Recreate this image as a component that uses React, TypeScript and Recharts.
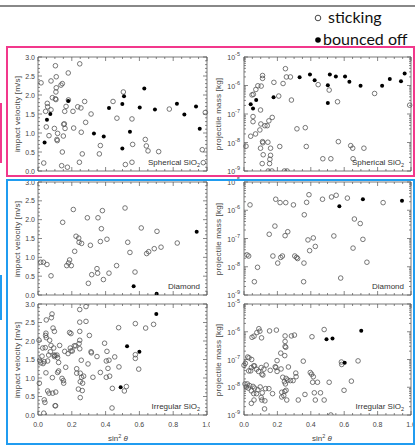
import React from 'react'
import { ScatterChart, Scatter, XAxis, YAxis, ReferenceArea } from 'recharts'

// [sin^2 theta, impact velocity in m/s]
const sphVelStick: [number, number][] = [
  [0.103, 2.77], [0.247, 2.82], [0.018, 2.32], [0.108, 2.48], [0.179, 2.58], [0.077, 2.37], [0.144, 2.30],
  [0.136, 2.26], [0.108, 2.19], [0.106, 2.08], [0.103, 1.90], [0.106, 1.88], [0.085, 1.93], [0.055, 1.78],
  [0.057, 1.69], [0.077, 1.61], [0.045, 1.57], [0.180, 1.87], [0.166, 1.70], [0.158, 1.57], [0.207, 1.57],
  [0.235, 1.69], [0.254, 1.66], [0.276, 1.83], [0.314, 1.50], [0.282, 1.28], [0.256, 1.02], [0.211, 1.13],
  [0.049, 1.16], [0.097, 1.12], [0.152, 1.23], [0.156, 1.24], [0.160, 1.12], [0.116, 0.99], [0.065, 0.93],
  [0.112, 0.83], [0.114, 0.80], [0.150, 0.92], [0.144, 0.50], [0.034, 0.21], [0.140, 0.14], [0.174, 0.10],
  [0.245, 0.23], [0.262, 0.45], [0.369, 0.67], [0.363, 0.45], [0.444, 1.83], [0.467, 1.39], [0.505, 2.08],
  [0.517, 0.17], [0.556, 1.37], [0.560, 0.70], [0.556, 0.23], [0.635, 0.83], [0.641, 0.66], [0.651, 0.53],
  [0.714, 0.51], [0.777, 1.63], [0.990, 1.54], [0.972, 0.56], [0.978, 0.22],
]
const sphVelBounce: [number, number][] = [
  [0.179, 1.84], [0.073, 1.50], [0.053, 1.35], [0.039, 0.75], [0.331, 0.99], [0.389, 0.91], [0.420, 1.66],
  [0.499, 1.76], [0.509, 1.97], [0.499, 0.59], [0.544, 1.03], [0.602, 1.67], [0.629, 2.17], [0.692, 1.62],
  [0.822, 1.77], [0.866, 1.49], [0.935, 1.70], [0.957, 1.11],
]

// [sin^2 theta, log10 of projectile mass in kg]
const sphMassStick: [number, number][] = [
  [0.248, -5.41], [0.254, -5.70], [0.278, -5.70], [0.179, -5.89], [0.234, -5.93], [0.208, -6.37], [0.284, -6.51],
  [0.444, -5.97], [0.510, -6.16], [0.560, -6.57], [0.782, -6.28], [0.992, -6.69], [0.111, -5.65], [0.111, -5.75],
  [0.103, -6.02], [0.083, -6.01], [0.071, -6.14], [0.056, -6.31], [0.048, -6.33], [0.099, -6.86], [0.054, -7.09],
  [0.054, -7.27], [0.101, -7.35], [0.125, -7.41], [0.139, -7.41], [0.169, -7.12], [0.149, -7.24], [0.069, -7.70],
  [0.095, -7.56], [0.040, -7.78], [0.111, -7.97], [0.113, -8.01], [0.143, -7.99], [0.012, -8.13], [0.099, -8.20],
  [0.159, -8.20], [0.214, -8.14], [0.115, -8.43], [0.159, -8.45], [0.155, -8.59], [0.109, -8.74], [0.153, -8.74],
  [0.317, -7.52], [0.367, -7.48], [0.373, -8.14], [0.565, -7.97], [0.639, -8.11], [0.651, -8.20], [0.718, -8.20],
  [0.472, -8.57], [0.520, -8.57], [0.653, -8.57], [0.145, -9.0], [0.167, -9.0], [0.242, -9.0], [0.258, -9.0],
]
const sphMassBounce: [number, number][] = [
  [0.040, -6.66], [0.054, -6.81], [0.073, -6.51], [0.177, -6.41], [0.333, -5.71], [0.395, -5.61], [0.423, -5.82],
  [0.502, -5.99], [0.502, -6.61], [0.514, -5.61], [0.550, -5.68], [0.605, -5.68], [0.631, -5.87], [0.698, -6.01],
  [0.827, -6.01], [0.873, -5.77], [0.940, -5.85], [0.962, -5.58],
]

const diaVelStick: [number, number][] = [
  [0.016, 0.87], [0.032, 0.87], [0.053, 0.81], [0.077, 0.51], [0.146, 1.93], [0.170, 0.78], [0.181, 0.85],
  [0.187, 0.93], [0.197, 0.78], [0.209, 2.27], [0.217, 1.16], [0.225, 1.56], [0.241, 1.51], [0.243, 1.40],
  [0.258, 1.37], [0.292, 2.05], [0.298, 0.31], [0.310, 1.32], [0.318, 0.54], [0.349, 0.70], [0.353, 0.58],
  [0.355, 2.05], [0.369, 1.42], [0.375, 1.76], [0.381, 2.24], [0.387, 0.41], [0.408, 1.48], [0.420, 0.58],
  [0.465, 0.78], [0.515, 2.31], [0.531, 1.40], [0.544, 1.13], [0.574, 0.61], [0.611, 1.78], [0.643, 1.10],
  [0.655, 1.15], [0.688, 1.23], [0.704, 1.69], [0.728, 1.27], [0.824, 1.38],
]
const diaVelBounce: [number, number][] = [[0.566, 0.23], [0.702, 0.03], [0.939, 1.68]]

const diaMassStick: [number, number][] = [
  [0.018, -7.58], [0.028, -7.62], [0.036, -5.81], [0.062, -8.53], [0.081, -8.02], [0.151, -6.85], [0.173, -7.62],
  [0.185, -6.56], [0.190, -5.61], [0.202, -7.87], [0.216, -5.73], [0.220, -7.67], [0.230, -7.62], [0.246, -6.90],
  [0.250, -5.73], [0.262, -6.76], [0.296, -5.81], [0.304, -7.62], [0.315, -7.67], [0.321, -7.71], [0.357, -8.53],
  [0.359, -7.87], [0.361, -6.16], [0.375, -5.72], [0.383, -7.05], [0.389, -5.45], [0.393, -7.43], [0.415, -6.98],
  [0.427, -7.28], [0.470, -5.61], [0.524, -5.53], [0.538, -6.91], [0.552, -5.47], [0.579, -8.40], [0.619, -5.57],
  [0.653, -7.34], [0.661, -6.31], [0.696, -6.47], [0.712, -7.03], [0.736, -7.84], [0.833, -5.73],
]
const diaMassBounce: [number, number][] = [[0.571, -5.86], [0.712, -5.61], [0.946, -5.66]]

const irrVelStick: [number, number][] = [
  [0.006, 2.02], [0.008, 0.86], [0.010, 1.48], [0.016, 1.41], [0.024, 1.59], [0.028, 1.81], [0.037, 1.44],
  [0.030, 1.39], [0.043, 1.82], [0.049, 2.09], [0.045, 2.15], [0.047, 2.21], [0.049, 2.57], [0.047, 1.14],
  [0.037, 0.41], [0.041, 0.34], [0.034, 0.05], [0.057, 0.65], [0.065, 0.59], [0.069, 2.02], [0.063, 1.62],
  [0.057, 1.46], [0.073, 1.71], [0.077, 1.88], [0.083, 2.73], [0.079, 2.63], [0.087, 0.59], [0.085, 1.01],
  [0.089, 2.35], [0.093, 1.81], [0.095, 1.62], [0.097, 2.26], [0.097, 1.58], [0.101, 1.61], [0.101, 0.25],
  [0.104, 0.25], [0.105, 0.62], [0.112, 1.62], [0.116, 1.15], [0.122, 1.42], [0.116, 1.55], [0.122, 1.19],
  [0.128, 1.88], [0.142, 0.99], [0.150, 0.93], [0.152, 0.86], [0.158, 1.72], [0.164, 1.29], [0.178, 1.66],
  [0.187, 2.23], [0.191, 1.81], [0.195, 1.73], [0.203, 1.73], [0.195, 2.20], [0.215, 1.87], [0.223, 1.87],
  [0.229, 1.25], [0.229, 1.13], [0.239, 0.70], [0.243, 1.93], [0.247, 2.85], [0.247, 2.51], [0.247, 2.26],
  [0.247, 2.02], [0.247, 1.79], [0.250, 1.13], [0.250, 0.90], [0.250, 0.47], [0.256, 1.48], [0.258, 1.02],
  [0.264, 0.86], [0.270, 1.05], [0.262, 0.66], [0.284, 2.93], [0.284, 2.53], [0.296, 1.38], [0.304, 2.15],
  [0.314, 1.71], [0.316, 1.68], [0.325, 1.02], [0.349, 1.58], [0.369, 1.15], [0.394, 1.94], [0.404, 1.46],
  [0.404, 1.02], [0.408, 1.72], [0.414, 1.26], [0.420, 1.48], [0.424, 1.05], [0.440, 0.72], [0.438, 0.19],
  [0.454, 1.57], [0.477, 2.36], [0.479, 1.30], [0.511, 0.65], [0.523, 0.77], [0.576, 2.47], [0.576, 1.63],
  [0.576, 1.53], [0.596, 1.24], [0.637, 2.35], [0.684, 2.45],
]
const irrVelBounce: [number, number][] = [[0.489, 0.75], [0.527, 1.86], [0.600, 1.71], [0.700, 2.73]]

const irrMassStick: [number, number][] = [
  [0.480, -5.92], [0.407, -6.18], [0.194, -5.94], [0.153, -5.97], [0.089, -5.89], [0.095, -5.98], [0.077, -6.03],
  [0.105, -6.22], [0.060, -6.16], [0.048, -6.20], [0.246, -6.15], [0.246, -6.35], [0.246, -6.53], [0.250, -6.56],
  [0.284, -6.15], [0.302, -6.12], [0.220, -6.77], [0.244, -6.86], [0.198, -7.04], [0.000, -7.21], [0.008, -7.14],
  [0.022, -6.91], [0.030, -6.94], [0.046, -7.00], [0.058, -7.23], [0.044, -7.29], [0.028, -7.41], [0.040, -7.41],
  [0.063, -7.23], [0.075, -7.35], [0.087, -7.43], [0.103, -7.29], [0.119, -7.35], [0.113, -7.56], [0.107, -7.53],
  [0.133, -7.20], [0.157, -7.39], [0.187, -7.26], [0.191, -7.29], [0.198, -7.43], [0.222, -7.34], [0.232, -7.64],
  [0.252, -7.68], [0.262, -7.74], [0.278, -7.76], [0.266, -7.27], [0.294, -7.76], [0.310, -7.49], [0.312, -7.62],
  [0.355, -7.06], [0.397, -7.47], [0.405, -7.53], [0.415, -7.62], [0.411, -7.82], [0.440, -7.82], [0.510, -7.82],
  [0.583, -7.09], [0.585, -7.18], [0.683, -7.05], [0.643, -7.78], [0.599, -8.11], [0.520, -9.0], [0.006, -7.88],
  [0.014, -7.99], [0.026, -8.03], [0.020, -7.88], [0.034, -7.94], [0.054, -7.97], [0.063, -8.03], [0.044, -8.13],
  [0.058, -8.23], [0.075, -8.23], [0.083, -8.09], [0.097, -7.99], [0.109, -8.20], [0.129, -8.05], [0.149, -8.05],
  [0.171, -8.23], [0.044, -8.58], [0.060, -8.46], [0.103, -8.37], [0.107, -8.46], [0.125, -8.49], [0.123, -8.78],
  [0.226, -8.35], [0.238, -8.30], [0.244, -8.15], [0.252, -8.11], [0.256, -8.46], [0.325, -8.46], [0.365, -8.26],
  [0.421, -8.20], [0.427, -8.46], [0.458, -8.20], [0.480, -8.46], [0.242, -7.80], [0.248, -7.88], [0.226, -8.18],
]
const irrMassBounce: [number, number][] = [[0.494, -6.27], [0.530, -6.24], [0.702, -5.96], [0.603, -7.12]]

const sinTicks = [0, 0.2, 0.4, 0.6, 0.8, 1.0]
const sinTickLabels = ['0.0', '0.2', '0.4', '0.6', '0.8', '1.0']
const velTicks = [0, 0.5, 1, 1.5, 2, 2.5, 3]
const velTickLabels = ['0.0', '0.5', '1.0', '1.5', '2.0', '2.5', '3.0']
const massDecades = [-9, -8, -7, -6, -5]

// IDL style minor ticks
const sinMinor = Array.from({ length: 21 }, (_, i) => +(i * 0.05).toFixed(2))
const velMinor = Array.from({ length: 31 }, (_, i) => +(i * 0.1).toFixed(1))
const massMinor = massDecades
  .slice(0, -1)
  .flatMap(d => [1, 2, 3, 4, 5, 6, 7, 8, 9].map(m => m * 10 ** d))
  .concat(10 ** -5)

const PINK = '#f2388c'
const BLUE = '#209cf0'
const TICK = '#555'
const SANS = '"Liberation Sans", Arial, sans-serif'
const LABEL = { fontFamily: SANS, fontSize: 7, fill: '#444' }

const COLS = [
  { plotLeft: 38, plotW: 169 },
  { plotLeft: 244, plotW: 167 },
]
const ROWS = [
  { plotTop: 57, plotH: 114 },
  { plotTop: 182, plotH: 113 },
  { plotTop: 304, plotH: 111 },
]
const YW = 34
const XH = 16
const TOP = 10

const near = (a: number, b: number) => Math.abs(a - b) < 1e-6

const bottomTick = (plotH: number, withLabel: boolean) => (p: any) => {
  const v = p.payload.value
  const idx = sinTicks.findIndex(t => near(t, v))
  const l = idx >= 0 ? 4 : 2
  return (
    <g>
      <line x1={p.x} y1={p.y} x2={p.x} y2={p.y - l} stroke={TICK} strokeWidth={0.7} />
      <line x1={p.x} y1={p.y - plotH} x2={p.x} y2={p.y - plotH + l} stroke={TICK} strokeWidth={0.7} />
      {withLabel && idx >= 0 && (
        <text x={p.x} y={p.y + 12} textAnchor="middle" {...LABEL}>{sinTickLabels[idx]}</text>
      )}
    </g>
  )
}

const velTick = (plotW: number) => (p: any) => {
  const v = p.payload.value
  const idx = velTicks.findIndex(t => near(t, v))
  const l = idx >= 0 ? 4 : 2
  return (
    <g>
      <line x1={p.x} y1={p.y} x2={p.x + l} y2={p.y} stroke={TICK} strokeWidth={0.7} />
      <line x1={p.x + plotW} y1={p.y} x2={p.x + plotW - l} y2={p.y} stroke={TICK} strokeWidth={0.7} />
      {idx >= 0 && (
        <text x={p.x - 3} y={p.y + 2.5} textAnchor="end" {...LABEL}>{velTickLabels[idx]}</text>
      )}
    </g>
  )
}

const massTick = (plotW: number) => (p: any) => {
  const e = Math.log10(p.payload.value)
  const major = Math.abs(e - Math.round(e)) < 1e-6
  const l = major ? 4 : 2
  return (
    <g>
      <line x1={p.x} y1={p.y} x2={p.x + l} y2={p.y} stroke={TICK} strokeWidth={0.7} />
      <line x1={p.x + plotW} y1={p.y} x2={p.x + plotW - l} y2={p.y} stroke={TICK} strokeWidth={0.7} />
      {major && (
        <text x={p.x - 4} y={p.y + 3} textAnchor="end" {...LABEL}>
          10<tspan dy={-4} fontSize={5.5}>{Math.round(e)}</tspan>
        </text>
      )}
    </g>
  )
}

const openDot = (p: any) => (
  <circle cx={p.cx} cy={p.cy} r={2.3} fill="none" stroke="#555" strokeWidth={0.8} />
)
const fullDot = (p: any) => <circle cx={p.cx} cy={p.cy} r={2} fill="#000" />

interface PanelProps {
  row: number
  col: number
  stick: [number, number][]
  bounce: [number, number][]
  name: string
  sub?: string
}

function Panel({ row, col, stick, bounce, name, sub }: PanelProps) {
  const { plotLeft, plotW } = COLS[col]
  const { plotTop, plotH } = ROWS[row]
  const isMass = col === 1
  const toPt = ([x, y]: [number, number]) => ({ x, y: isMass ? 10 ** y : y })
  const yDomain: [number, number] = isMass ? [1e-9, 1e-5] : [0, 3]
  return (
    <>
      <div style={{ position: 'absolute', left: plotLeft - YW, top: plotTop - TOP }}>
        <ScatterChart
          width={YW + plotW + 4}
          height={TOP + plotH + XH}
          margin={{ top: TOP, right: 4, bottom: 0, left: 0 }}
        >
          <XAxis
            dataKey="x"
            type="number"
            domain={[0, 1]}
            ticks={sinMinor}
            interval={0}
            height={XH}
            tickSize={0}
            tickMargin={0}
            axisLine={false}
            tickLine={false}
            tick={bottomTick(plotH, row === 2)}
          />
          <YAxis
            dataKey="y"
            type="number"
            scale={isMass ? 'log' : 'linear'}
            domain={yDomain}
            allowDataOverflow
            ticks={isMass ? massMinor : velMinor}
            interval={0}
            width={YW}
            tickSize={0}
            tickMargin={0}
            axisLine={false}
            tickLine={false}
            tick={isMass ? massTick(plotW) : velTick(plotW)}
          />
          <ReferenceArea
            x1={0}
            x2={1}
            y1={yDomain[0]}
            y2={yDomain[1]}
            fill="none"
            fillOpacity={0}
            stroke="#555"
            strokeWidth={0.8}
          />
          <Scatter data={stick.map(toPt)} shape={openDot} isAnimationActive={false} />
          <Scatter data={bounce.map(toPt)} shape={fullDot} isAnimationActive={false} />
        </ScatterChart>
      </div>
      <div
        style={{
          position: 'absolute',
          left: plotLeft,
          width: plotW - 7,
          top: plotTop + plotH - 13,
          textAlign: 'right',
          fontFamily: SANS,
          fontSize: 8,
          lineHeight: '10px',
          color: '#333',
          whiteSpace: 'nowrap',
        }}
      >
        {name}
        {sub && <span style={{ fontSize: 5.5, verticalAlign: '-2px' }}>{sub}</span>}
      </div>
    </>
  )
}

function AxisTitle({ x, y, text }: { x: number; y: number; text: string }) {
  return (
    <div
      style={{
        position: 'absolute',
        left: x,
        top: y,
        transform: 'translate(-50%, -50%) rotate(-90deg)',
        fontFamily: SANS,
        fontSize: 8,
        letterSpacing: 0.2,
        color: '#444',
        whiteSpace: 'nowrap',
      }}
    >
      {text}
    </div>
  )
}

export default function App() {
  return (
    <div
      style={{
        position: 'absolute',
        left: 0,
        top: 0,
        width: 415,
        height: 446,
        background: '#fff',
        overflow: 'hidden',
      }}
    >
      <div style={{ position: 'absolute', left: 0, top: 5, width: 415, height: 2, background: '#888' }} />

      <Panel row={0} col={0} stick={sphVelStick} bounce={sphVelBounce} name="Spherical SiO" sub="2" />
      <Panel row={1} col={0} stick={diaVelStick} bounce={diaVelBounce} name="Diamond" />
      <Panel row={2} col={0} stick={irrVelStick} bounce={irrVelBounce} name="Irregular SiO" sub="2" />
      {/* the right-hand image hides the end of the left "1.0" label */}
      <div style={{ position: 'absolute', left: 210, top: 419, width: 8, height: 12, background: '#fff' }} />
      <Panel row={0} col={1} stick={sphMassStick} bounce={sphMassBounce} name="Spherical SiO" sub="2" />
      <Panel row={1} col={1} stick={diaMassStick} bounce={diaMassBounce} name="Diamond" />
      <Panel row={2} col={1} stick={irrMassStick} bounce={irrMassBounce} name="Irregular SiO" sub="2" />

      {ROWS.map(r => (
        <React.Fragment key={r.plotTop}>
          <AxisTitle x={17} y={r.plotTop + r.plotH / 2} text="impact velocity [m/s]" />
          <AxisTitle x={218} y={r.plotTop + r.plotH / 2} text="projectile mass [kg]" />
        </React.Fragment>
      ))}

      {[118, 322].map(cx => (
        <div
          key={cx}
          style={{
            position: 'absolute',
            left: cx - 30,
            width: 60,
            top: 431,
            textAlign: 'center',
            fontFamily: SANS,
            fontSize: 8,
            lineHeight: '10px',
            color: '#444',
            whiteSpace: 'nowrap',
          }}
        >
          sin<span style={{ fontSize: 5.5, verticalAlign: '3px' }}>2</span> <i>θ</i>
        </div>
      ))}

      <svg style={{ position: 'absolute', left: 300, top: 0 }} width={115} height={50}>
        <circle cx={18} cy={18} r={2.8} fill="none" stroke="#333" strokeWidth={0.9} />
        <text x={28} y={23} fontFamily="Lato, sans-serif" fontSize={16} fill="#111">sticking</text>
        <circle cx={18} cy={40} r={2.8} fill="#000" />
        <text x={23} y={45} fontFamily="Lato, sans-serif" fontSize={16} fill="#111">bounced off</text>
      </svg>

      <div style={{ position: 'absolute', left: 6, top: 46, width: 409, height: 131, border: `2px solid ${PINK}`, boxSizing: 'border-box' }} />
      <div style={{ position: 'absolute', left: 6, top: 179, width: 409, height: 266, border: `2px solid ${BLUE}`, boxSizing: 'border-box' }} />
      <div style={{ position: 'absolute', left: 0, top: 103, width: 2, height: 60, background: PINK }} />
      <div style={{ position: 'absolute', left: 0, top: 275, width: 2, height: 45, background: BLUE }} />
    </div>
  )
}
